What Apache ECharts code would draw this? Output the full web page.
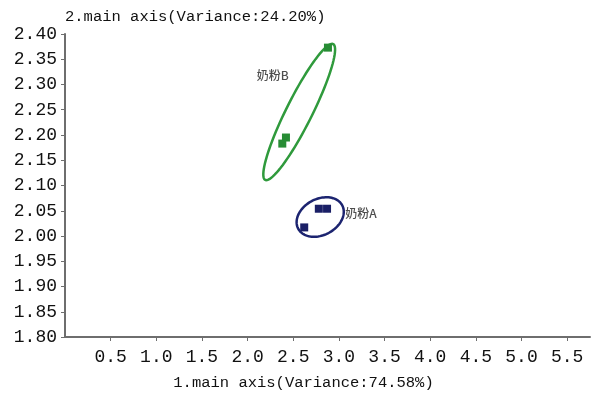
<!DOCTYPE html>
<html>
<head>
<meta charset="utf-8">
<script src="https://cdn.jsdelivr.net/npm/echarts@6/dist/echarts.min.js"></script>
<style>html,body{margin:0;padding:0;background:#fff}#c{width:598px;height:398px}</style>
</head>
<body>
<div id="c"></div>
<script>
// ---- data ----
const xTickValues = [0.5, 1.0, 1.5, 2.0, 2.5, 3.0, 3.5, 4.0, 4.5, 5.0, 5.5];
const xName = '1.main axis(Variance:74.58%)';
const yName = '2.main axis(Variance:24.20%)';
const groupNames = ['奶粉A', '奶粉B'];
const pointsA = [[2.78, 2.054], [2.87, 2.054], [2.62, 2.017]];
const pointsB = [[2.88, 2.373], [2.42, 2.195], [2.38, 2.183]];
// ellipse: [centerX, centerY, majorEndX, majorEndY, minorEndX, minorEndY]
const ellipseA = [2.795, 2.0376, 3.036, 2.0608, 2.888, 2.0061];
const ellipseB = [2.565, 2.2455, 2.937, 2.380, 2.692, 2.234];
// label anchors
const labelA = [3.242, 2.0455];
const labelB = [2.276, 2.3188];

const colA = '#1c2470', colB = '#2f9a3c';
const ptA = '#1a1f66', ptB = '#278c34';

const chart = echarts.init(document.getElementById('c'));
const monoFont = '"Liberation Mono", monospace';

chart.setOption({
  animation: false,
  backgroundColor: '#fff',
  grid: { left: 65, right: 8, top: 34, bottom: 61, containLabel: false },
  xAxis: {
    type: 'value', min: 0, max: 5.75, interval: 0.5,
    name: xName, nameLocation: 'middle', nameGap: 38,
    nameTextStyle: { fontFamily: monoFont, fontSize: 15.5, color: '#111', padding: [0, 48, 0, 0] },
    axisLine: { show: true, lineStyle: { color: '#6e6e6e', width: 2 } },
    axisTick: { show: true, length: 4, customValues: xTickValues, lineStyle: { color: '#6e6e6e', width: 1 } },
    axisLabel: { customValues: xTickValues, margin: 11, fontFamily: monoFont, fontSize: 18, color: '#111',
      formatter: v => v.toFixed(1) },
    splitLine: { show: false }
  },
  yAxis: {
    type: 'value', min: 1.8, max: 2.4, interval: 0.05,
    name: yName, nameLocation: 'end', nameGap: 9,
    nameTextStyle: { fontFamily: monoFont, fontSize: 15.5, color: '#111', align: 'left', verticalAlign: 'bottom' },
    axisLine: { show: true, lineStyle: { color: '#6e6e6e', width: 2 } },
    axisTick: { show: true, length: 4, lineStyle: { color: '#6e6e6e', width: 1 } },
    axisLabel: { margin: 8, fontFamily: monoFont, fontSize: 18, color: '#111',
      formatter: v => v.toFixed(2) },
    splitLine: { show: false }
  },
  series: [
    {
      type: 'custom', clip: false, silent: true,
      data: [ellipseA.concat([0]), ellipseB.concat([1])],
      encode: { x: [0, 2, 4], y: [1, 3, 5] },
      renderItem: function (params, api) {
        const c = api.coord([api.value(0), api.value(1)]);
        const m = api.coord([api.value(2), api.value(3)]);
        const n = api.coord([api.value(4), api.value(5)]);
        const u = [m[0] - c[0], m[1] - c[1]];
        const w = [n[0] - c[0], n[1] - c[1]];
        const pts = [];
        for (let i = 0; i < 90; i++) {
          const t = i / 90 * Math.PI * 2;
          pts.push([c[0] + u[0] * Math.cos(t) + w[0] * Math.sin(t),
                    c[1] + u[1] * Math.cos(t) + w[1] * Math.sin(t)]);
        }
        return {
          type: 'polygon',
          shape: { points: pts },
          style: { fill: 'none', stroke: api.value(6) === 0 ? colA : colB, lineWidth: 2.5 }
        };
      },
      z: 2
    },
    {
      name: groupNames[0], type: 'scatter', symbol: 'rect', symbolSize: 8,
      itemStyle: { color: ptA, opacity: 1 }, data: pointsA, z: 3
    },
    {
      name: groupNames[1], type: 'scatter', symbol: 'rect', symbolSize: 8,
      itemStyle: { color: ptB, opacity: 1 }, data: pointsB, z: 3
    },
    {
      type: 'scatter', symbolSize: 0, silent: true,
      data: [
        { value: labelA, name: groupNames[0] },
        { value: labelB, name: groupNames[1] }
      ],
      label: {
        show: true, position: 'inside', formatter: p => p.name,
        fontFamily: '"Noto Sans CJK SC", sans-serif', fontSize: 12, color: '#222', fontWeight: 500
      },
      z: 4
    }
  ]
});
</script>
</body>
</html>
